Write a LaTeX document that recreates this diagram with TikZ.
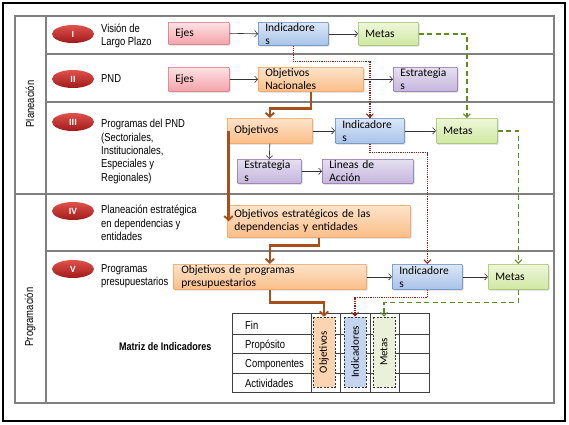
\documentclass[tikz,border=0pt]{standalone}
\usepackage{fontspec}
\setmainfont{Carlito}
\newfontfamily\narrow[FakeStretch=0.82]{Liberation Sans}
\usetikzlibrary{shapes.geometric,arrows.meta,shadows,calc}
\definecolor{pinkT}{HTML}{FDE2E4}\definecolor{pinkB}{HTML}{F4A3AA}\definecolor{pinkD}{HTML}{DA6470}
\definecolor{blueT}{HTML}{DCE7F7}\definecolor{blueB}{HTML}{A9C3E8}\definecolor{blueD}{HTML}{4F81BD}
\definecolor{greenT}{HTML}{EEF7DA}\definecolor{greenB}{HTML}{CFE8A3}\definecolor{greenD}{HTML}{9BBB59}
\definecolor{orangeT}{HTML}{FDE3CA}\definecolor{orangeB}{HTML}{FBBE88}\definecolor{orangeD}{HTML}{F79646}
\definecolor{purpT}{HTML}{E6DFF0}\definecolor{purpB}{HTML}{C6B6DD}\definecolor{purpD}{HTML}{8064A2}
\definecolor{brownc}{HTML}{A84F1C}
\definecolor{dotred}{HTML}{8A2418}
\definecolor{grdash}{HTML}{5F8A24}
\definecolor{framec}{HTML}{808080}
\definecolor{ovalT}{HTML}{E0524C}\definecolor{ovalB}{HTML}{A01A1A}
\begin{document}
\begin{tikzpicture}[x=1pt,y=-1pt,
  bx/.style={draw, line width=0.6pt, rounded corners=0.8pt, anchor=north west,
    inner xsep=7pt, inner ysep=0pt, align=left,
    font=\fontsize{11.5}{13}\selectfont,
    drop shadow={shadow xshift=1.2pt, shadow yshift=-1.2pt, opacity=0.3}},
  pinkbox/.style={bx, draw=pinkD, top color=pinkT, bottom color=pinkB},
  bluebox/.style={bx, draw=blueD, top color=blueT, bottom color=blueB},
  greenbox/.style={bx, draw=greenD, top color=greenT, bottom color=greenB},
  orangebox/.style={bx, draw=orangeD, top color=orangeT, bottom color=orangeB},
  purpbox/.style={bx, draw=purpD, top color=purpT, bottom color=purpB},
  oval/.style={ellipse, minimum width=42pt, minimum height=18pt, inner sep=0pt,
    top color=ovalT, bottom color=ovalB, text=white, font=\bfseries\fontsize{9.5}{10}\selectfont},
  lbl/.style={anchor=base west, inner sep=0pt, align=left, font=\narrow\fontsize{11.5}{13.3}\selectfont},
  tlbl/.style={anchor=base west, inner sep=0pt, font=\narrow\fontsize{11.5}{13}\selectfont},
  vlbl/.style={rotate=90, inner sep=0pt, font=\narrow\fontsize{11.5}{13}\selectfont},
  mbox/.style={rotate=90, minimum width=70pt, minimum height=22pt, inner sep=0pt,
    line width=0.6pt, dash pattern=on 2pt off 1.5pt, font=\fontsize{11}{12}\selectfont},
  blk/.style={draw=black!80, line width=0.6pt, -{Straight Barb[length=3pt,width=6.5pt]}},
  dotr/.style={draw=dotred, line width=1.5pt, dash pattern=on 1.2pt off 1pt, -{Straight Barb[length=3.5pt,width=7pt,line width=1.1pt]}},
  grd/.style={draw=grdash, line width=1.6pt, dash pattern=on 5pt off 3.5pt, -{Straight Barb[length=3.5pt,width=7pt,line width=1.1pt]}},
  brn/.style={draw=brownc, line width=2.4pt, -{Straight Barb[length=4pt,width=8.5pt,line width=1.9pt]}},
  frame/.style={draw=framec, line width=1.1pt}
]
\useasboundingbox (0,0) rectangle (569,424);
\fill[white] (0,0) rectangle (569,424);
\draw[line width=2pt] (3,3) rectangle (565,421);
% frame
\draw[frame] (15,16) rectangle (554,403);
\draw[frame] (46,16) -- (46,403);
\draw[frame] (46,54) -- (554,54);
\draw[frame] (46,102) -- (554,102);
\draw[frame] (15,194) -- (554,194);
\draw[frame] (46,251) -- (554,251);
\node[vlbl] (pl) at (30,104) {Planeación};
\node[vlbl] (pr) at (30,317) {Programación};
% ovals
\node[oval] (r1) at (73,34) {I};
\node[oval] (r2) at (73,79) {II};
\node[oval] (r3) at (73,122) {III};
\node[oval] (r4) at (73,211) {IV};
\node[oval] (r5) at (73,269) {V};
% row labels (base = last line)
\node[lbl] (t1) at (101,45.5) {Visión de\\Largo Plazo};
\node[lbl] (t2) at (101,82) {PND};
\node[lbl] (t3) at (101,181) {Programas del PND\\(Sectoriales,\\Institucionales,\\Especiales y\\Regionales)};
\node[lbl] (t4) at (101,240.5) {Planeación estratégica\\en dependencias y\\entidades};
\node[lbl] (t5) at (101,285.5) {Programas\\presupuestarios};
% boxes
\node[pinkbox, minimum width=61pt, minimum height=22pt, text width=47pt] (e1) at (168,22) {Ejes};
\node[bluebox, minimum width=70pt, minimum height=23pt, text width=56pt] (i1) at (258,22) {Indicadore\\s};
\node[greenbox, minimum width=60pt, minimum height=23pt, text width=46pt] (m1) at (358,22) {Metas};
\node[pinkbox, minimum width=61pt, minimum height=24pt, text width=47pt] (e2) at (168,67) {Ejes};
\node[orangebox, minimum width=105pt, minimum height=24pt, text width=91pt] (on2) at (258,67) {Objetivos\\Nacionales};
\node[purpbox, minimum width=64pt, minimum height=24pt, text width=50pt] (es2) at (393,67) {Estrategia\\s};
\node[orangebox, minimum width=85pt, minimum height=25pt, text width=71pt] (o3) at (227,118) {Objetivos};
\node[bluebox, minimum width=69pt, minimum height=25pt, text width=55pt] (i3) at (335,118) {Indicadore\\s};
\node[greenbox, minimum width=61pt, minimum height=25pt, text width=47pt] (m3) at (436,118) {Metas};
\node[purpbox, minimum width=64pt, minimum height=24pt, text width=50pt] (es3) at (237,159) {Estrategia\\s};
\node[purpbox, minimum width=91pt, minimum height=24pt, text width=77pt] (l3) at (322,159) {Lineas de\\Acción};
\node[orangebox, minimum width=183pt, minimum height=32pt, text width=169pt] (o4) at (227,205) {Objetivos estratégicos de las\\dependencias y entidades};
\node[orangebox, minimum width=193pt, minimum height=25pt, text width=177pt, inner xsep=8pt] (o5) at (173,264) {Objetivos de programas\\presupuestarios};
\node[bluebox, minimum width=70pt, minimum height=25pt, text width=56pt] (i5) at (392,264) {Indicadore\\s};
\node[greenbox, minimum width=60pt, minimum height=25pt, text width=46pt] (m5) at (488,264) {Metas};
% matrix table
\draw[draw=black!75, line width=0.8pt] (232,313) rectangle (429,392);
\foreach \yy in {334,353,373} \draw[draw=black!75, line width=0.8pt] (232,\yy) -- (429,\yy);
\foreach \xx in {311,340,370,399} \draw[draw=black!75, line width=0.8pt] (\xx,313) -- (\xx,392);
\node[tlbl] (fin) at (245,329) {Fin};
\node[tlbl] (pro) at (245,348) {Propósito};
\node[tlbl] (com) at (245,367.5) {Componentes};
\node[tlbl] (act) at (245,387) {Actividades};
\node[anchor=base west, inner sep=0pt, font=\narrow\bfseries\fontsize{11}{13}\selectfont] (mat) at (119,350.5) {Matriz de Indicadores};
\node[mbox, draw=black!80, fill=orangeT!60!orangeB] (mo) at (324,352) {Objetivos};
\node[mbox, draw=black!80, fill=blueT!50!blueB] (mi) at (355,352) {Indicadores};
\node[mbox, draw=black!80, fill=greenT!60!greenB!80!olive!40] (mm) at (384,352) {Metas};
% black arrows
\draw[blk] (e1.east) -- (i1.west);
\draw[blk] (i1.east) -- (m1.west);
\draw[blk] (e2.east) -- (on2.west);
\draw[blk] (on2.east) -- (es2.west);
\draw[blk] (o3.east) -- (i3.west);
\draw[blk] (i3.east) -- (m3.west);
\draw[blk] (o3.south) -- (es3.north);
\draw[blk] (es3.east) -- (l3.west);
\draw[blk] (o5.east) -- (i5.west);
\draw[blk] (i5.east) -- (m5.west);
% dotted red
\draw[dotr] (i1.south) -- ++(0,16) -| (i3.north);
\draw[dotr] (i3.south) -- ++(0,9) -| (i5.north);
\draw[dotr] (i5.south) -- ++(0,8) -| (mi.east);
% green dashed
\draw[grd] (m1.east) -| (m3.north);
\draw[grd] (m3.east) -| (m5.north);
\draw[grd] (m5.south) -- ++(0,13) -| (mm.east);
% brown
\draw[brn] (on2.south) -- ++(0,17) -| (o3.north);
\draw[brn] ([xshift=1.5pt]o3.west) -- ([xshift=1.5pt]o4.west);
\draw[brn] (o4.south) -- ++(0,8) -| (o5.north);
\draw[brn] (o5.south) -- ++(0,13) -| (mo.east);
\end{tikzpicture}
\end{document}
